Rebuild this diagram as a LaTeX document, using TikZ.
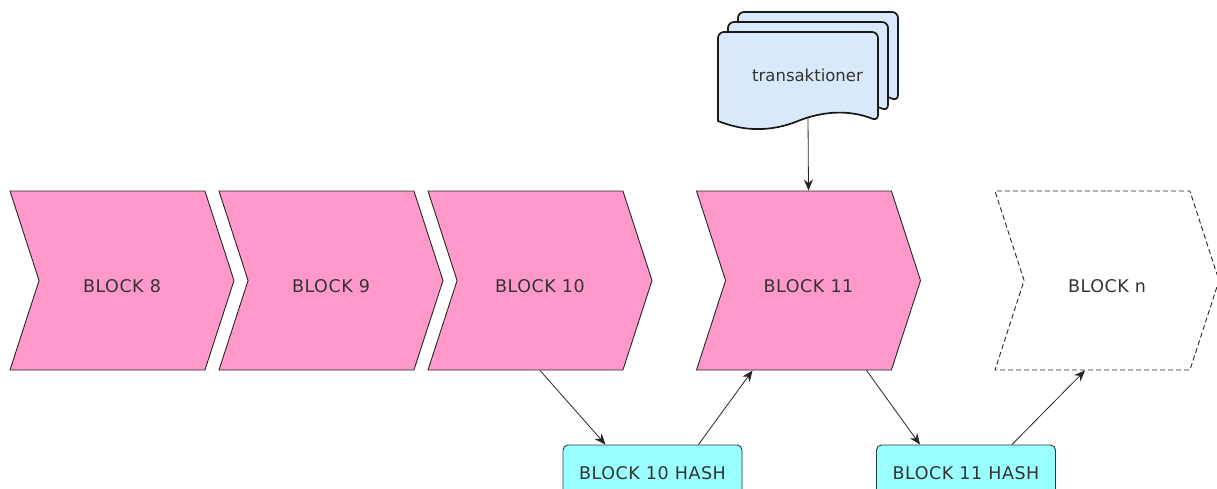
\documentclass[tikz,border=0pt]{standalone}
\usepackage{fontspec}
\setmainfont{DejaVu Sans}
\newfontfamily\capsfont[LetterSpace=3]{DejaVu Sans}
\usetikzlibrary{positioning,arrows.meta,shapes.symbols}
\definecolor{blockpink}{HTML}{FF99CC}
\definecolor{hashcyan}{HTML}{99FFFF}
\definecolor{docblue}{HTML}{DAE8FC}

\begin{document}
\begin{tikzpicture}[
  x=1pt, y=-1pt,
  font=\fontsize{16.5}{20}\selectfont,
  block/.style={signal, signal from=west, signal to=east, signal pointer angle=144,
                draw=black!85, line width=0.9pt, fill=blockpink, text=black!80,
                font=\capsfont\fontsize{17.5}{20}\selectfont,
                text height=23pt, text depth=0pt,
                minimum width=224pt, minimum height=179pt, inner sep=0pt},
  ghostblock/.style={block, fill=none, dash pattern=on 5pt off 3pt},
  hashbox/.style={draw=black!80, line width=0.9pt, rounded corners=5pt, fill=hashcyan,
                  text=black!80, font=\capsfont\fontsize{17.5}{20}\selectfont,
                  minimum width=179pt, minimum height=56pt},
  sheet/.style={draw=black!90, line width=1.7pt, fill=docblue},
  arr/.style={-{Stealth[length=11pt, width=9pt, inset=3.5pt]}, black!85, line width=0.8pt}
]
\useasboundingbox (0,0) rectangle (1217,488);
% ----- chain of blocks -----
\node[block]      (b8)  at (122,280.5)  {BLOCK 8};
\node[block]      (b9)  at (331,280.5)  {BLOCK 9};
\node[block]      (b10) at (540,280.5)  {BLOCK 10};
\node[block]      (b11) at (808.5,280.5) {BLOCK 11};
\node[ghostblock] (bn)  at (1107,280.5) {BLOCK n};
% ----- hashes below the chain -----
\node[hashbox] (h10) at (652.5,473) {BLOCK 10 HASH};
\node[hashbox] (h11) at (966,473)   {BLOCK 11 HASH};
% ----- stacked transaction sheets -----
\foreach \d in {20,10,0}{
  \draw[sheet, shift={(\d,-\d)}] (878,121)
    .. controls (851.3,110.2) and (824.7,110.2) .. (798,121)
    .. controls (771.3,131.8) and (744.7,131.8) .. (718,121)
    [rounded corners=6pt] -- (718,32) -- (878,32) -- cycle;
}
\node[text=black!80] (tx) at (807.5,75) {transaktioner};
\coordinate (txfoot) at (808,118);
% ----- connections -----
\draw[arr] (txfoot) -- (b11.north);
\draw[arr] (b10.south) -- ([xshift=-47pt]h10.north);
\draw[arr] ([xshift=46pt]h10.north) -- ([xshift=-56pt]b11.south);
\draw[arr] ([xshift=58pt]b11.south) -- ([xshift=-46pt]h11.north);
\draw[arr] ([xshift=46pt]h11.north) -- ([xshift=-22pt]bn.south);
\end{tikzpicture}
\end{document}
